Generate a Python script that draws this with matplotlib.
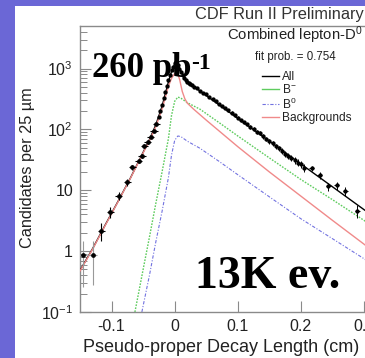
import matplotlib
matplotlib.use("Agg")
import matplotlib.pyplot as plt
from matplotlib.lines import Line2D
from matplotlib.patches import Rectangle
import numpy as np

plt.rcParams['font.family'] = ['Liberation Sans', 'DejaVu Sans']

# fit curves
all_x = [-0.15, -0.13, -0.11, -0.09, -0.07, -0.05, -0.04, -0.03, -0.02, -0.01, -0.005,
         0.0, 0.003, 0.006, 0.01, 0.015, 0.02, 0.03, 0.04, 0.07, 0.1, 0.15, 0.2, 0.25, 0.3, 0.33]
all_y = [0.48, 1.1, 2.7, 6.5, 16, 42, 68, 118, 240, 600, 900,
         1200, 1300, 1150, 900, 700, 600, 510, 428, 255, 152, 64, 27, 11.4, 4.8, 2.9]

bkg_x = [-0.15, -0.13, -0.11, -0.09, -0.07, -0.05, -0.04, -0.03, -0.02, -0.01, -0.005,
         0.0, 0.004, 0.008, 0.012, 0.016, 0.02, 0.03, 0.05, 0.07, 0.1, 0.15, 0.2, 0.25, 0.3, 0.33]
bkg_y = [0.47, 1.08, 2.65, 6.4, 15.8, 41, 65, 110, 215, 510, 690,
         830, 880, 650, 420, 320, 270, 215, 142, 95, 52, 20, 8, 3.2, 1.3, 0.75]

bminus_x = [-0.063, -0.05, -0.04, -0.03, -0.02, -0.01, -0.005, 0.0, 0.005, 0.01, 0.02,
            0.04, 0.07, 0.1, 0.15, 0.2, 0.25, 0.3, 0.33]
bminus_y = [0.1, 0.5, 1.7, 6, 20, 70, 170, 290, 340, 325, 275,
            215, 130, 78, 34, 15, 7, 3.2, 1.95]

bzero_x = [-0.052, -0.04, -0.03, -0.02, -0.01, -0.005, 0.0, 0.005, 0.01, 0.02,
           0.04, 0.07, 0.1, 0.15, 0.2, 0.25, 0.3, 0.33]
bzero_y = [0.1, 0.4, 1.4, 4.5, 16, 38, 66, 78, 76, 64,
           49, 30, 18, 7.8, 3.4, 1.6, 0.75, 0.45]

# data points, coarse bins on the negative side
wide_x = [-0.146, -0.130, -0.116, -0.102, -0.089, -0.075, -0.067, -0.057, -0.052,
          -0.048, -0.043, -0.038, -0.033, -0.029]
wide_y = [0.86, 0.88, 2.15, 4.4, 8.0, 13.5, 23.7, 30.7, 37, 54, 61, 75, 95, 123]
wide_err = [0.6, 0.6, 0.7, 0.9, 1.2, 1.6, 2.1, 2.4, 2.6, 3.1, 3.3, 3.7, 4.1, 4.7]

# data points, fine bins around the peak and on the positive side
fine_x = [-0.025, -0.0225, -0.02, -0.0175, -0.015, -0.0125, -0.01, -0.0075, -0.005, -0.0025,
          0.0, 0.0025, 0.005, 0.0075, 0.01, 0.0125, 0.015, 0.0175, 0.02, 0.0225,
          0.025, 0.0275, 0.03, 0.035, 0.04, 0.045, 0.05, 0.055, 0.06, 0.065,
          0.07, 0.075, 0.08, 0.085, 0.09, 0.095, 0.1, 0.105, 0.11, 0.115,
          0.12, 0.125, 0.13, 0.135, 0.14, 0.145, 0.15, 0.155, 0.16, 0.165,
          0.17, 0.175, 0.18, 0.185, 0.19, 0.195, 0.2, 0.205]
fine_y = [160, 200, 250, 330, 410, 520, 640, 780, 930, 1080,
          1250, 1280, 1150, 1000, 880, 790, 700, 650, 610, 580,
          560, 530, 505, 475, 430, 400, 378, 342, 318, 292,
          262, 242, 226, 206, 188, 170, 155, 141, 130, 121,
          110, 101, 92, 86, 77, 70, 64, 59, 53, 49,
          44, 40, 37, 34, 31, 28.5, 27, 23.5]

tail_x = [0.217, 0.230, 0.243, 0.257, 0.270, 0.289]
tail_y = [22.8, 17.5, 11.6, 12.0, 9.6, 4.6]

ytick_vals = [0.1, 1, 10, 100, 1000]
ytick_labels = [r'$\mathregular{10^{-1}}$', '1', '10', r'$\mathregular{10^{2}}$', r'$\mathregular{10^{3}}$']
xtick_vals = [-0.1, 0.0, 0.1, 0.2, 0.3]
xtick_labels = ['-0.1', '0', '0.1', '0.2', '0.3']

W, H = 365, 358
fig = plt.figure(figsize=(W / 100, H / 100), dpi=100, facecolor='#6b67d6')
fig.patches.append(Rectangle((15 / W, 0), 1, 1 - 6 / H, transform=fig.transFigure,
                             facecolor='white', edgecolor='none', zorder=-5))

ax = fig.add_axes([80 / W, 1 - 312 / H, (383 - 80) / W, (312 - 26) / H])
ax.set_zorder(2)
ax.set_facecolor('white')
ax.set_yscale('log')
ax.set_xlim(-0.15, 0.33)
ax.set_ylim(0.1, 5000)

ax.plot(all_x, all_y, color='black', lw=1.0, zorder=3)
ax.plot(bkg_x, bkg_y, color='#f08a8a', lw=1.0, zorder=4)
ax.plot(bminus_x, bminus_y, color='#5fcc5f', lw=1.0, ls=(0, (1.2, 1)), zorder=2)
ax.plot(bzero_x, bzero_y, color='#7272e0', lw=0.8, dashes=(3, 1.5, 1, 1.5), zorder=2)

ax.errorbar(wide_x[:2], wide_y[:2], yerr=wide_err[:2], xerr=0.007, fmt='o', ms=2.4,
            color='black', ecolor='#999999', elinewidth=0.8, capsize=0, zorder=5)
ax.errorbar(wide_x[2:], wide_y[2:], yerr=wide_err[2:], xerr=0.006, fmt='o', ms=2.4,
            color='black', elinewidth=0.8, capsize=0, zorder=5)
fine_err = np.sqrt(np.array(fine_y)) * 0.7
ax.errorbar(fine_x, fine_y, yerr=fine_err, xerr=0.00125, fmt='o', ms=2.1,
            color='black', elinewidth=0.7, capsize=0, zorder=5)
tail_err = np.sqrt(np.array(tail_y)) * 0.5
ax.errorbar(tail_x, tail_y, yerr=tail_err, xerr=0.004, fmt='o', ms=2.1,
            color='black', elinewidth=0.7, capsize=0, zorder=5)

for s in ['left', 'bottom', 'top']:
    ax.spines[s].set_color('#8a8a8a')
    ax.spines[s].set_linewidth(1.0)
ax.spines['right'].set_visible(False)

ax.set_yticks(ytick_vals)
ax.set_yticklabels(ytick_labels)
ax.set_xticks(xtick_vals)
ax.set_xticklabels(xtick_labels)
ax.tick_params(axis='both', which='major', direction='in', length=8, width=0.8,
               color='#8a8a8a', labelsize=11.5, labelcolor='#222222', pad=5)
ax.tick_params(axis='y', which='minor', direction='in', length=5, width=0.7, color='#8a8a8a')
ax.tick_params(axis='x', which='minor', bottom=False)
ax.tick_params(axis='y', which='minor', labelleft=False)

fig.text(28 / W, 1 - 168 / H, u'Candidates per 25 \u00b5m', rotation=90, ha='center',
         va='center', fontsize=11.7, color='#222222')
fig.text(221 / W, 1 - 348 / H, 'Pseudo-proper Decay Length (cm)', ha='center',
         va='center', fontsize=13, color='#222222')
fig.text(364 / W, 1 - 14 / H, 'CDF Run II Preliminary', ha='right', va='center',
         fontsize=11.8, color='#333333')
fig.text(363 / W, 1 - 35 / H, r'Combined lepton-D$\mathregular{^{0}}$', ha='right',
         va='center', fontsize=10.7, color='#222222', zorder=10)
fig.text(255 / W, 1 - 57 / H, 'fit prob. = 0.754', ha='left', va='center',
         fontsize=8.3, color='#222222', zorder=10)

handles = [Line2D([], [], color='black', lw=1.0),
           Line2D([], [], color='#5fcc5f', lw=1.0),
           Line2D([], [], color='#7272e0', lw=0.8, dashes=(3, 1.5, 1, 1.5)),
           Line2D([], [], color='#f08a8a', lw=1.0)]
labels = ['All', r'B$\mathregular{^{-}}$', r'B$\mathregular{^{0}}$', 'Backgrounds']
leg = ax.legend(handles, labels, loc='upper left', bbox_to_anchor=(256 / W, 1 - 65 / H),
                bbox_transform=fig.transFigure, frameon=False, fontsize=8.6,
                handlelength=1.4, handletextpad=0.25, labelspacing=0.02, borderpad=0)
for t in leg.get_texts():
    t.set_color('#222222')

lumi = fig.text(92 / W, 1 - 77 / H, '260 pb', ha='left', va='baseline',
                fontsize=25, fontweight='bold', family='Liberation Serif', color='black', zorder=10)
ax.annotate('-1', xy=(1.0, 0.97), xycoords=lumi, ha='left', va='top',
            fontsize=17, fontweight='bold', family='Liberation Serif', color='black',
            annotation_clip=False, zorder=10)
fig.text(268 / W, 1 - 288 / H, '13K ev.', ha='center', va='baseline',
         fontsize=33, fontweight='bold', family='Liberation Serif', color='black', zorder=10)

fig.savefig('out.png', dpi=100, facecolor=fig.get_facecolor())
